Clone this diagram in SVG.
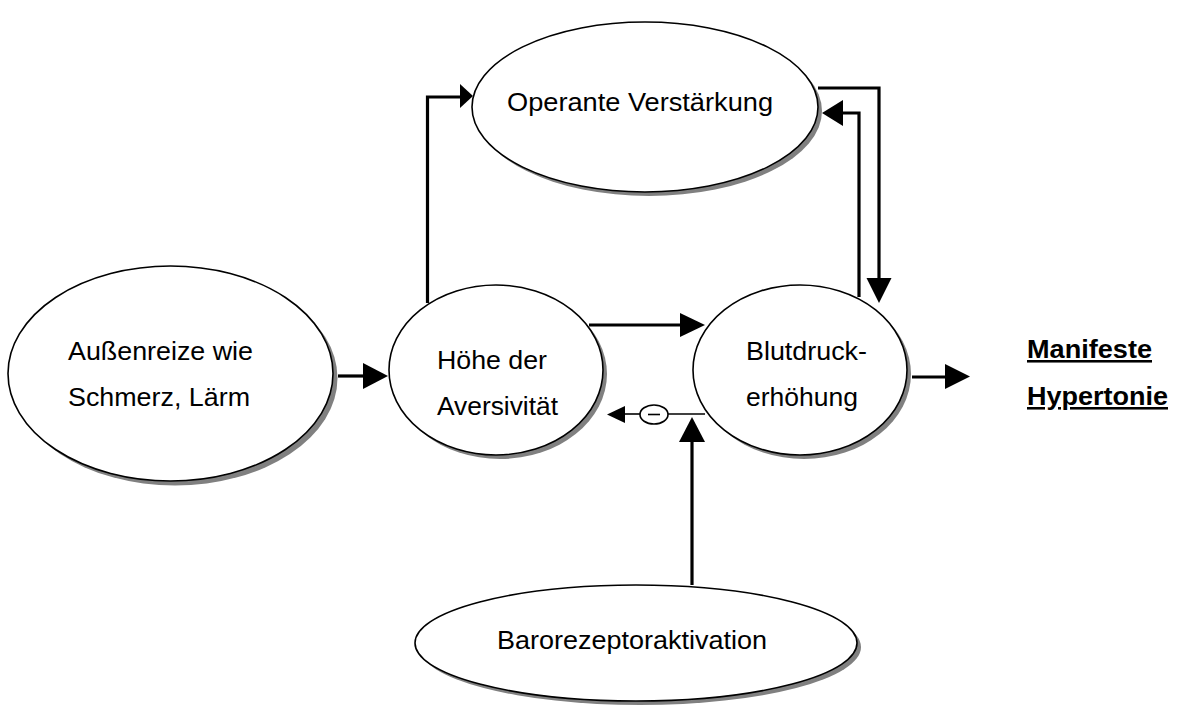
<svg xmlns="http://www.w3.org/2000/svg" width="1179" height="706" viewBox="0 0 1179 706">
<style>
.sh{fill:#808080;stroke:none}
.el{fill:#fff;stroke:#000;stroke-width:1.6}
.t{font-family:"Liberation Sans",Arial,sans-serif;font-size:25.5px;fill:#000}
.b{font-weight:bold;text-decoration:underline}
.c{fill:none;stroke:#000;stroke-width:3.2}
.ct{fill:none;stroke:#000;stroke-width:1.6}
.ah{fill:#000;stroke:none}
</style>
<rect width="1179" height="706" fill="#fff"/>
<g id="aussenreize">
<ellipse class="sh" cx="175" cy="378" rx="162.5" ry="107.5"/>
<ellipse class="el" cx="170.5" cy="373.5" rx="162.5" ry="107.5"/>
<text class="t" x="68" y="360" textLength="185" lengthAdjust="spacingAndGlyphs">Außenreize wie</text>
<text class="t" x="68" y="406" textLength="182" lengthAdjust="spacingAndGlyphs">Schmerz, Lärm</text>
</g>
<g id="aversivitaet">
<ellipse class="sh" cx="500" cy="374" rx="107" ry="85"/>
<ellipse class="el" cx="496" cy="370" rx="107" ry="85"/>
<text class="t" x="437" y="369" textLength="110" lengthAdjust="spacingAndGlyphs">Höhe der</text>
<text class="t" x="437" y="415" textLength="121" lengthAdjust="spacingAndGlyphs">Aversivität</text>
</g>
<g id="blutdruck">
<ellipse class="sh" cx="804" cy="374" rx="107" ry="85"/>
<ellipse class="el" cx="800" cy="370" rx="107" ry="85"/>
<text class="t" x="746" y="360" textLength="121" lengthAdjust="spacingAndGlyphs">Blutdruck-</text>
<text class="t" x="746" y="406" textLength="112" lengthAdjust="spacingAndGlyphs">erhöhung</text>
</g>
<g id="operante">
<ellipse class="sh" cx="649" cy="111" rx="173" ry="85"/>
<ellipse class="el" cx="645" cy="107" rx="173" ry="85"/>
<text class="t" x="507" y="111" textLength="266" lengthAdjust="spacingAndGlyphs">Operante Verstärkung</text>
</g>
<g id="barorezeptor">
<ellipse class="sh" cx="640" cy="647" rx="221" ry="58"/>
<ellipse class="el" cx="636" cy="643" rx="221" ry="58"/>
<text class="t" x="497" y="649" textLength="270" lengthAdjust="spacingAndGlyphs">Barorezeptoraktivation</text>
</g>
<g id="hypertonie">
<text class="t b" x="1027" y="358" textLength="125" lengthAdjust="spacingAndGlyphs">Manifeste</text>
<text class="t b" x="1027" y="405" textLength="141" lengthAdjust="spacingAndGlyphs">Hypertonie</text>
</g>
<g id="connectors">
<line class="c" x1="338" y1="376" x2="364" y2="376"/>
<polygon class="ah" points="363,363 388,376 363,389"/>
<line class="c" x1="589" y1="325" x2="681" y2="325"/>
<polygon class="ah" points="680,313 705,325 680,337"/>
<line class="c" x1="912" y1="377" x2="946" y2="377"/>
<polygon class="ah" points="945,364 970,376.5 945,389"/>
<polyline class="c" points="427.5,303 427.5,97 461,97"/>
<polygon class="ah" points="460,84 473,96 460,108"/>
<polyline class="c" points="818,88 879,88 879,279"/>
<polygon class="ah" points="866.5,278 891.5,278 879,303"/>
<polyline class="c" points="859,297 859,113 842,113"/>
<polygon class="ah" points="843,100 843,126 822,113"/>
<line class="c" x1="692" y1="585" x2="692" y2="441"/>
<polygon class="ah" points="679,442 705,442 692,417"/>
<line class="ct" x1="705" y1="414" x2="668" y2="414"/>
<ellipse class="ct" cx="654" cy="414.5" rx="14" ry="9.5"/>
<line class="ct" x1="648" y1="414.5" x2="660" y2="414.5"/>
<line class="ct" x1="640" y1="414" x2="624" y2="414"/>
<polygon class="ah" points="625,406 625,423 607,414.5"/>
</g>
</svg>
